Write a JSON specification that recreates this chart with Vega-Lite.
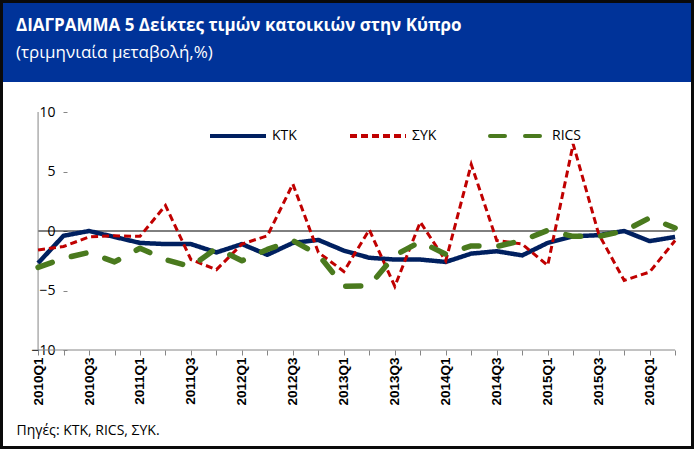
{
  "$schema": "https://vega.github.io/schema/vega-lite/v6.json",
  "background": "#0a0a0a",
  "padding": 3,
  "spacing": 0,
  "config": {"font": "Open Sans", "view": {"stroke": null}},
  "datasets": {
    "hp": [
      {"q":"2010Q1","series":"KTK","value":-2.7},{"q":"2010Q2","series":"KTK","value":-0.4},{"q":"2010Q3","series":"KTK","value":0.0},{"q":"2010Q4","series":"KTK","value":-0.5},
      {"q":"2011Q1","series":"KTK","value":-1.0},{"q":"2011Q2","series":"KTK","value":-1.1},{"q":"2011Q3","series":"KTK","value":-1.1},{"q":"2011Q4","series":"KTK","value":-1.8},
      {"q":"2012Q1","series":"KTK","value":-1.1},{"q":"2012Q2","series":"KTK","value":-2.0},{"q":"2012Q3","series":"KTK","value":-1.0},{"q":"2012Q4","series":"KTK","value":-0.75},
      {"q":"2013Q1","series":"KTK","value":-1.65},{"q":"2013Q2","series":"KTK","value":-2.25},{"q":"2013Q3","series":"KTK","value":-2.4},{"q":"2013Q4","series":"KTK","value":-2.4},
      {"q":"2014Q1","series":"KTK","value":-2.6},{"q":"2014Q2","series":"KTK","value":-1.9},{"q":"2014Q3","series":"KTK","value":-1.7},{"q":"2014Q4","series":"KTK","value":-2.05},
      {"q":"2015Q1","series":"KTK","value":-1.0},{"q":"2015Q2","series":"KTK","value":-0.45},{"q":"2015Q3","series":"KTK","value":-0.35},{"q":"2015Q4","series":"KTK","value":0.0},
      {"q":"2016Q1","series":"KTK","value":-0.85},{"q":"2016Q2","series":"KTK","value":-0.5},

      {"q":"2010Q1","series":"ΣΥΚ","value":-1.6},{"q":"2010Q2","series":"ΣΥΚ","value":-1.3},{"q":"2010Q3","series":"ΣΥΚ","value":-0.5},{"q":"2010Q4","series":"ΣΥΚ","value":-0.4},
      {"q":"2011Q1","series":"ΣΥΚ","value":-0.45},{"q":"2011Q2","series":"ΣΥΚ","value":2.15},{"q":"2011Q3","series":"ΣΥΚ","value":-2.4},{"q":"2011Q4","series":"ΣΥΚ","value":-3.25},
      {"q":"2012Q1","series":"ΣΥΚ","value":-1.1},{"q":"2012Q2","series":"ΣΥΚ","value":-0.4},{"q":"2012Q3","series":"ΣΥΚ","value":3.95},{"q":"2012Q4","series":"ΣΥΚ","value":-1.8},
      {"q":"2013Q1","series":"ΣΥΚ","value":-3.4},{"q":"2013Q2","series":"ΣΥΚ","value":0.1},{"q":"2013Q3","series":"ΣΥΚ","value":-4.65},{"q":"2013Q4","series":"ΣΥΚ","value":0.75},
      {"q":"2014Q1","series":"ΣΥΚ","value":-2.5},{"q":"2014Q2","series":"ΣΥΚ","value":5.6},{"q":"2014Q3","series":"ΣΥΚ","value":-0.8},{"q":"2014Q4","series":"ΣΥΚ","value":-1.1},
      {"q":"2015Q1","series":"ΣΥΚ","value":-2.9},{"q":"2015Q2","series":"ΣΥΚ","value":7.3},{"q":"2015Q3","series":"ΣΥΚ","value":-0.25},{"q":"2015Q4","series":"ΣΥΚ","value":-4.15},
      {"q":"2016Q1","series":"ΣΥΚ","value":-3.45},{"q":"2016Q2","series":"ΣΥΚ","value":-0.8},

      {"q":"2010Q1","series":"RICS","value":-3.05},{"q":"2010Q2","series":"RICS","value":-2.3},{"q":"2010Q3","series":"RICS","value":-1.8},{"q":"2010Q4","series":"RICS","value":-2.6},
      {"q":"2011Q1","series":"RICS","value":-1.45},{"q":"2011Q2","series":"RICS","value":-2.4},{"q":"2011Q3","series":"RICS","value":-3.0},{"q":"2011Q4","series":"RICS","value":-1.45},
      {"q":"2012Q1","series":"RICS","value":-2.5},{"q":"2012Q2","series":"RICS","value":-1.55},{"q":"2012Q3","series":"RICS","value":-0.8},{"q":"2012Q4","series":"RICS","value":-2.0},
      {"q":"2013Q1","series":"RICS","value":-4.65},{"q":"2013Q2","series":"RICS","value":-4.6},{"q":"2013Q3","series":"RICS","value":-2.05},{"q":"2013Q4","series":"RICS","value":-0.9},
      {"q":"2014Q1","series":"RICS","value":-1.95},{"q":"2014Q2","series":"RICS","value":-1.25},{"q":"2014Q3","series":"RICS","value":-1.3},{"q":"2014Q4","series":"RICS","value":-0.8},
      {"q":"2015Q1","series":"RICS","value":0.05},{"q":"2015Q2","series":"RICS","value":-0.45},{"q":"2015Q3","series":"RICS","value":-0.45},{"q":"2015Q4","series":"RICS","value":0.0},
      {"q":"2016Q1","series":"RICS","value":1.1},{"q":"2016Q2","series":"RICS","value":0.25}
    ]
  },
  "vconcat": [
    {
      "width": 688,
      "height": 79,
      "view": {"fill": "#003399", "stroke": null},
      "data": {"values": []},
      "mark": "point",
      "encoding": {},
      "title": {
        "text": "\u00a0ΔΙΑΓΡΑΜΜΑ 5 Δείκτες τιμών κατοικιών στην Κύπρο",
        "subtitle": "(τριμηνιαία μεταβολή,%)",
        "anchor": "start",
        "frame": "group",
        "orient": "top",
        "offset": -59,
        "dx": 13,
        "font": "Open Sans",
        "fontSize": 17,
        "fontWeight": "bold",
        "color": "white",
        "subtitleFont": "Open Sans",
        "subtitleFontSize": 17,
        "subtitleFontWeight": "normal",
        "subtitleColor": "white",
        "subtitlePadding": 10
      }
    },
    {
      "width": 688,
      "height": 364,
      "view": {"fill": "white", "stroke": null},
      "data": {"name": "hp"},
      "layer": [
        {
          "data": {"values": [{}]},
          "mark": {"type": "rule", "color": "black", "strokeWidth": 1},
          "encoding": {
            "x": {"datum": "2010Q1", "type": "ordinal"},
            "x2": {"datum": "2016Q2"},
            "y": {"datum": 0, "type": "quantitative"}
          }
        },
        {
          "data": {"values": [{}]},
          "mark": {"type": "rule", "color": "#868686", "strokeWidth": 1},
          "encoding": {
            "x": {"datum": "2010Q1", "type": "ordinal"},
            "y": {"datum": -10, "type": "quantitative"},
            "y2": {"datum": 10}
          }
        },
        {
          "data": {"values": [{}]},
          "mark": {"type": "rule", "color": "#868686", "strokeWidth": 1},
          "encoding": {
            "x": {"datum": "2010Q1", "type": "ordinal"},
            "x2": {"datum": "2016Q2"},
            "y": {"datum": -10, "type": "quantitative"}
          }
        },
        {
          "transform": [{"filter": "datum.series === 'KTK'"}],
          "mark": {"type": "line", "strokeWidth": 4.5, "strokeCap": "butt", "strokeJoin": "round"},
          "encoding": {
            "x": {
              "field": "q", "type": "ordinal",
              "scale": {"type": "point", "padding": 1.954, "align": 0.688, "round": false},
              "axis": {
                "offset": -96, "domain": false, "grid": false,
                "tickSize": 5, "tickColor": "#868686",
                "labelAngle": -90, "labelFont": "Liberation Sans", "labelFontWeight": "bold",
                "labelFontSize": 13.5, "labelColor": "black", "labelPadding": 2,
                "labelOverlap": false, "labelBound": false,
                "labelExpr": "(indexof(datum.label,'Q1')>=0 || indexof(datum.label,'Q3')>=0) ? datum.label : ''",
                "title": "Πηγές: ΚΤΚ, RICS, ΣΥΚ.",
                "titleFont": "Open Sans", "titleFontSize": 14, "titleFontWeight": "normal",
                "titleColor": "black", "titleX": 13, "titleY": 84,
                "titleAlign": "left", "titleBaseline": "alphabetic"
              }
            },
            "y": {
              "field": "value", "type": "quantitative",
              "scale": {"domain": [-18.067, 12.521], "nice": false, "zero": false},
              "axis": {
                "values": [-10, -5, 0, 5, 10], "offset": -64, "domain": false, "grid": false,
                "tickSize": 4, "tickColor": "#868686",
                "labelFont": "Open Sans", "labelFontSize": 14, "labelColor": "black",
                "labelPadding": 8, "title": null
              }
            },
            "color": {
              "field": "series", "type": "nominal",
              "scale": {"domain": ["KTK", "ΣΥΚ", "RICS"], "range": ["#002060", "#C00000", "#4A7A1E"]},
              "legend": {
                "orient": "none", "legendX": 205, "legendY": 103, "direction": "horizontal",
                "title": null, "symbolType": "stroke", "symbolSize": 3136, "symbolStrokeWidth": 4,
                "labelFont": "Open Sans", "labelFontSize": 14, "labelColor": "black",
                "labelOffset": 4, "columnPadding": 45, "padding": 0,
                "encode": {"symbols": {"update": {
                  "strokeCap": {"signal": "datum.value === 'RICS' ? 'round' : 'butt'"}
                }}}
              }
            },
            "strokeDash": {
              "field": "series", "type": "nominal",
              "scale": {"domain": ["KTK", "ΣΥΚ", "RICS"], "range": [[1, 0], [7, 4], [15, 20]]},
              "legend": {
                "orient": "none", "legendX": 205, "legendY": 103, "direction": "horizontal",
                "title": null, "symbolType": "stroke", "symbolSize": 3136, "symbolStrokeWidth": 4,
                "labelFont": "Open Sans", "labelFontSize": 14, "labelColor": "black",
                "labelOffset": 4, "columnPadding": 45, "padding": 0
              }
            }
          }
        },
        {
          "transform": [{"filter": "datum.series === 'ΣΥΚ'"}],
          "mark": {"type": "line", "strokeWidth": 3, "strokeCap": "butt", "strokeJoin": "miter"},
          "encoding": {
            "x": {"field": "q", "type": "ordinal"},
            "y": {"field": "value", "type": "quantitative"},
            "color": {"field": "series", "type": "nominal"},
            "strokeDash": {"field": "series", "type": "nominal"}
          }
        },
        {
          "transform": [{"filter": "datum.series === 'RICS'"}],
          "mark": {"type": "line", "strokeWidth": 5.5, "strokeCap": "round", "strokeJoin": "round"},
          "encoding": {
            "x": {"field": "q", "type": "ordinal"},
            "y": {"field": "value", "type": "quantitative"},
            "color": {"field": "series", "type": "nominal"},
            "strokeDash": {"field": "series", "type": "nominal"}
          }
        }
      ]
    }
  ]
}
